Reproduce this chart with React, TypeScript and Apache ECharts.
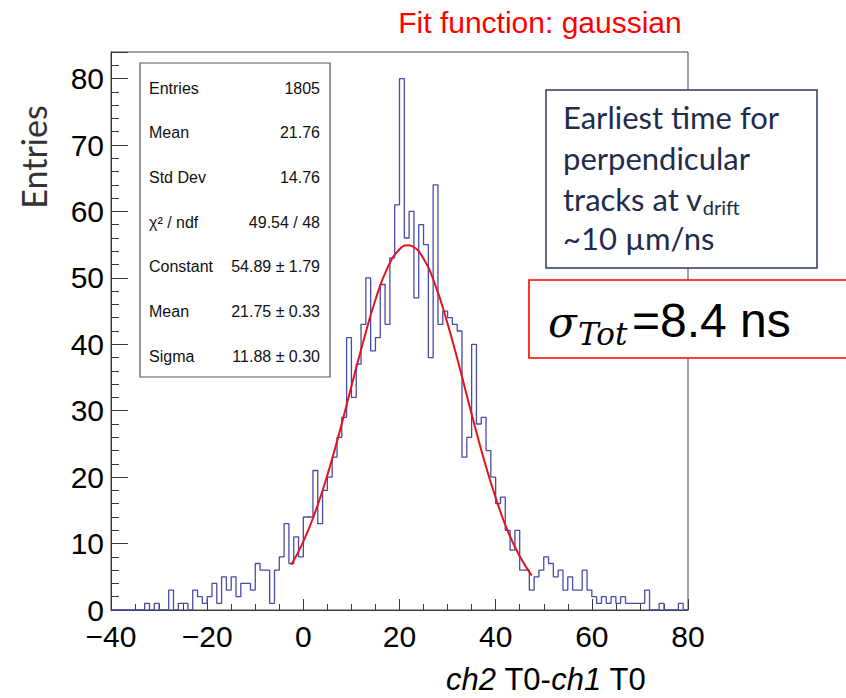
import React, { useEffect, useRef } from "react";
import * as echarts from "echarts";

// Histogram: 120 bins of width 1 from -40 to 80
const binStart = -40;
const binWidth = 1;
const counts = [
  // -40 .. -31
  0, 0, 0, 0, 0, 0, 0, 1, 0, 1,
  // -30 .. -21
  0, 0, 3, 0, 1, 1, 0, 3, 2, 1,
  // -20 .. -11
  2, 4, 1, 5, 3, 5, 2, 4, 4, 3,
  // -10 .. -1
  7, 6, 6, 1, 6, 8, 13, 7, 11, 8,
  // 0 .. 9
  14, 14, 21, 13, 18, 20, 23, 26, 29, 41,
  // 10 .. 19
  32, 37, 43, 50, 39, 41, 49, 43, 53, 61,
  // 20 .. 29
  80, 56, 60, 47, 58, 55, 38, 64, 43, 45,
  // 30 .. 39
  44, 43, 42, 23, 26, 40, 28, 29, 24, 20,
  // 40 .. 49
  16, 17, 12, 9, 12, 6, 6, 3, 5, 6,
  // 50 .. 59
  8, 7, 5, 6, 3, 5, 3, 3, 6, 3,
  // 60 .. 69
  2, 1, 2, 1, 2, 1, 2, 1, 1, 1,
  // 70 .. 79
  1, 3, 0, 0, 1, 0, 0, 0, 1, 0,
];

// Fit curve (red)
const fitX = [-2.5, 0, 2.5, 5, 7.5, 10, 12.5, 15, 17.5, 20, 21.75, 22.5, 25, 27.5, 30, 32.5, 35, 37.5, 40, 42.5, 45, 47.5];
const fitY = [6.8, 10.3, 14.8, 20.3, 26.7, 33.7, 40.5, 46.7, 51.5, 54.3, 54.9, 54.8, 52.9, 48.8, 43.1, 36.5, 29.5, 22.8, 16.9, 11.9, 8.1, 5.2];

const xTicks = { min: -40, max: 80, major: 20, minor: 5 };
const yTicks = { min: 0, max: 84, major: 10, minor: 2 };

const statLabels = ["Entries", "Mean", "Std Dev", "\u03c7\u00b2 / ndf", "Constant", "Mean", "Sigma"];
const statValues = ["1805", "21.76", "14.76", "49.54 / 48", "54.89 \u00b1 1.79", "21.75 \u00b1 0.33", "11.88 \u00b1 0.30"];

const noteLines = ["Earliest time for", "perpendicular", "tracks at v", "~10 \u00b5m/ns"];

const SANS = "'Liberation Sans', Arial, Helvetica, sans-serif";
const NOTE = "Lato, 'Open Sans', sans-serif";

export default function App() {
  const ref = useRef<HTMLDivElement>(null);
  useEffect(() => {
    if (!ref.current) return;
    const chart = echarts.init(ref.current, null, { renderer: "svg" });
    const histData: number[][] = counts.map((c, i) => [binStart + i * binWidth, c]);
    histData.push([binStart + counts.length * binWidth, 0]);
    const fitData = fitX.map((x, i) => [x, fitY[i]]);

    const axisColor = "#3a3a3a";
    const graphics: any[] = [];

    // stats box
    graphics.push({
      type: "rect", z: 100,
      shape: { x: 140, y: 63, width: 190, height: 314 },
      style: { fill: "#fff", stroke: "#555", lineWidth: 1.2 },
    });
    statLabels.forEach((l, i) => {
      const y = 88 + i * 44.7;
      graphics.push({
        type: "text", z: 101, x: 149, y,
        style: { text: l, fill: "#111", fontSize: 16, fontFamily: SANS, textAlign: "left", textVerticalAlign: "middle", align: "left", verticalAlign: "middle" },
      });
      graphics.push({
        type: "text", z: 101, x: 320, y,
        style: { text: statValues[i], fill: "#111", fontSize: 16, fontFamily: SANS, textAlign: "right", textVerticalAlign: "middle", align: "right", verticalAlign: "middle" },
      });
    });

    // note box
    graphics.push({
      type: "rect", z: 100,
      shape: { x: 546, y: 90, width: 271, height: 178 },
      style: { fill: "#fff", stroke: "#2d3a5a", lineWidth: 1.5 },
    });
    const noteY = [117, 158, 199, 238];
    noteLines.forEach((t, i) => {
      const text = i === 2 ? "{n|" + t + "}{s|drift}" : t;
      graphics.push({
        type: "text", z: 101, x: 563, y: noteY[i],
        style: {
          text, fill: "#1f2c4c", fontSize: 31, fontFamily: NOTE,
          textAlign: "left", textVerticalAlign: "middle", align: "left", verticalAlign: "middle",
          rich: {
            n: { fontSize: 31, fontFamily: NOTE, fill: "#1f2c4c", lineHeight: 36, verticalAlign: "middle" },
            s: { fontSize: 20, fontFamily: NOTE, fill: "#1f2c4c", lineHeight: 14, verticalAlign: "bottom" },
          },
        },
      });
    });

    // sigma box
    graphics.push({
      type: "rect", z: 100,
      shape: { x: 529, y: 280, width: 340, height: 78 },
      style: { fill: "#fff", stroke: "#ff0000", lineWidth: 1.6 },
    });
    graphics.push({
      type: "text", z: 101, x: 548, y: 322,
      style: { text: "\u03c3", fill: "#000", fontSize: 42, fontStyle: "italic", fontFamily: "'DejaVu Serif', serif", textAlign: "left", textVerticalAlign: "middle", align: "left", verticalAlign: "middle" },
    });
    graphics.push({
      type: "text", z: 101, x: 578, y: 334,
      style: { text: "Tot", fill: "#000", fontSize: 31, fontStyle: "italic", fontFamily: "'DejaVu Serif', serif", textAlign: "left", textVerticalAlign: "middle", align: "left", verticalAlign: "middle" },
    });
    graphics.push({
      type: "text", z: 101, x: 632, y: 320,
      style: { text: "=8.4 ns", fill: "#000", fontSize: 48, fontFamily: SANS, textAlign: "left", textVerticalAlign: "middle", align: "left", verticalAlign: "middle" },
    });

    // title
    graphics.push({
      type: "text", z: 101, x: 540, y: 22,
      style: { text: "Fit function: gaussian", fill: "#ff0000", fontSize: 30, fontFamily: SANS, textAlign: "center", textVerticalAlign: "middle", align: "center", verticalAlign: "middle" },
    });
    // y axis title
    graphics.push({
      type: "text", z: 101, x: 33, y: 157, rotation: Math.PI / 2,
      style: { text: "Entries", fill: "#333", fontSize: 34, fontFamily: NOTE, textAlign: "center", textVerticalAlign: "middle", align: "center", verticalAlign: "middle" },
    });
    // x axis title
    graphics.push({
      type: "text", z: 101, x: 546, y: 679,
      style: {
        text: "{i|ch2}{n| T0-}{i|ch1}{n| T0}", fill: "#000", fontSize: 31, fontFamily: SANS,
        textAlign: "center", textVerticalAlign: "middle", align: "center", verticalAlign: "middle",
        rich: {
          i: { fontSize: 31, fontFamily: SANS, fontStyle: "italic", fill: "#000", lineHeight: 34 },
          n: { fontSize: 31, fontFamily: SANS, fill: "#000", lineHeight: 34 },
        },
      },
    });

    const labelStyle = { fontSize: 30, color: "#000", fontFamily: SANS };

    chart.setOption({
      animation: false,
      backgroundColor: "#fff",
      grid: { left: 111, right: 158, top: 52, bottom: 88, show: true, borderColor: "#444", borderWidth: 1, backgroundColor: "transparent" },
      xAxis: [
        {
          type: "value", min: xTicks.min, max: xTicks.max, interval: xTicks.major, position: "bottom",
          axisLine: { show: true, onZero: false, lineStyle: { color: axisColor, width: 1 } },
          axisTick: { show: true, inside: true, length: 11, lineStyle: { color: axisColor, width: 1 } },
          axisLabel: { ...labelStyle, margin: 11, formatter: (v: number) => String(v).replace("-", "\u2212") },
          splitLine: { show: false },
        },
        {
          type: "value", min: xTicks.min, max: xTicks.max, interval: xTicks.minor, position: "bottom",
          axisLine: { show: false, onZero: false },
          axisTick: { show: true, inside: true, length: 6, lineStyle: { color: axisColor, width: 1 } },
          axisLabel: { show: false }, splitLine: { show: false },
        },
      ],
      yAxis: [
        {
          type: "value", min: yTicks.min, max: yTicks.max, interval: yTicks.major, position: "left",
          axisLine: { show: true, onZero: false, lineStyle: { color: axisColor, width: 1 } },
          axisTick: { show: true, inside: true, length: 17, lineStyle: { color: axisColor, width: 1 } },
          axisLabel: { ...labelStyle, margin: 7, formatter: (v: number) => (v % yTicks.major === 0 ? String(v) : "") },
          splitLine: { show: false },
        },
        {
          type: "value", min: yTicks.min, max: yTicks.max, interval: yTicks.minor, position: "left",
          axisLine: { show: false, onZero: false },
          axisTick: { show: true, inside: true, length: 8, lineStyle: { color: axisColor, width: 1 } },
          axisLabel: { show: false }, splitLine: { show: false },
        },
      ],
      series: [
        {
          type: "line", name: "hist", xAxisIndex: 0, yAxisIndex: 0, data: histData, step: "end",
          symbol: "none", lineStyle: { color: "#4a4aa8", width: 1.3 }, z: 3, silent: true,
        },
        {
          type: "line", name: "fit", xAxisIndex: 0, yAxisIndex: 0, data: fitData, smooth: true,
          symbol: "none", lineStyle: { color: "#e3141c", width: 2 }, z: 4, silent: true,
        },
      ],
      graphic: graphics,
    });
    return () => chart.dispose();
  }, []);
  return <div ref={ref} style={{ position: "absolute", left: 0, top: 0, width: 846, height: 698 }} />;
}
